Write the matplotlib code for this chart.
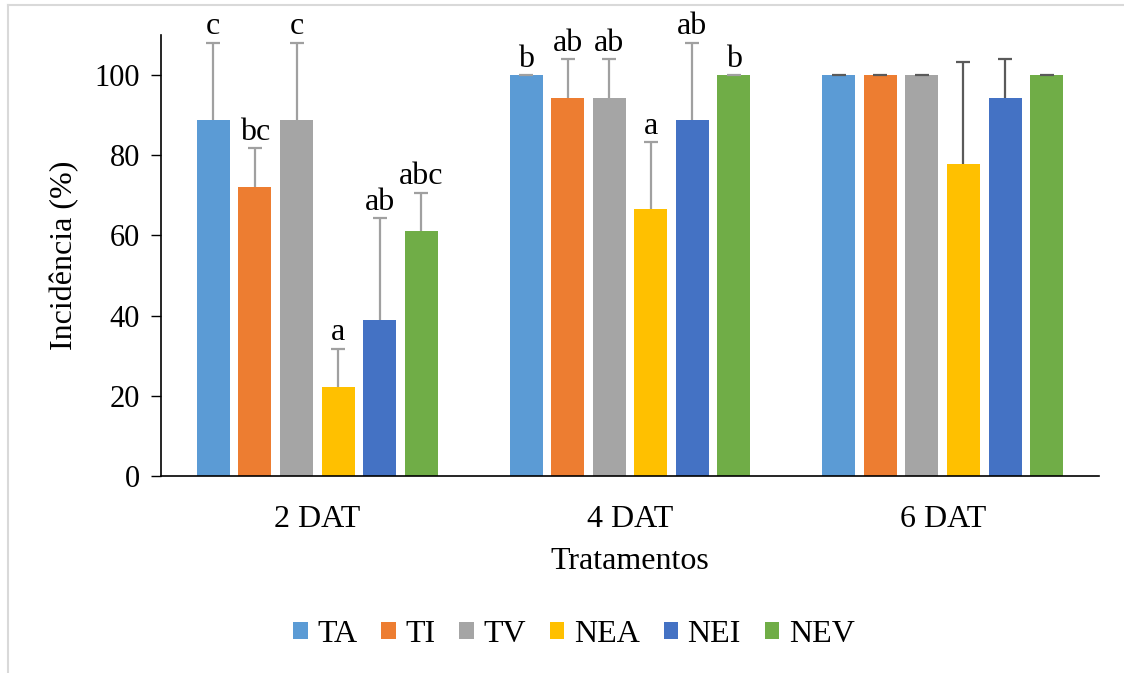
import matplotlib.pyplot as plt
import numpy as np

plt.rcParams['font.family'] = ['Liberation Serif', 'DejaVu Serif']

groups = ["2 DAT", "4 DAT", "6 DAT"]
series = ["TA", "TI", "TV", "NEA", "NEI", "NEV"]
colors = ["#5B9BD5", "#ED7D31", "#A5A5A5", "#FFC000", "#4472C4", "#70AD47"]

# incidence (%) per series, one value per group
values = {
    "TA":  [88.9, 100.0, 100.0],
    "TI":  [72.2, 94.4, 100.0],
    "TV":  [88.9, 94.4, 100.0],
    "NEA": [22.2, 66.7, 77.8],
    "NEI": [38.9, 88.9, 94.4],
    "NEV": [61.1, 100.0, 100.0],
}
errors = {
    "TA":  [19.2, 0.0, 0.0],
    "TI":  [9.6, 9.6, 0.0],
    "TV":  [19.2, 9.6, 0.0],
    "NEA": [9.6, 16.6, 25.5],
    "NEI": [25.5, 19.2, 9.6],
    "NEV": [9.6, 0.0, 0.0],
}
letters = {
    "TA":  ["c", "b", ""],
    "TI":  ["bc", "ab", ""],
    "TV":  ["c", "ab", ""],
    "NEA": ["a", "a", ""],
    "NEI": ["ab", "ab", ""],
    "NEV": ["abc", "b", ""],
}
err_colors = ["#a0a0a0", "#a0a0a0", "#5a5a5a"]

def main():
    W, H = 1124, 673
    fig = plt.figure(figsize=(W / 100, H / 100), dpi=100)
    ax = fig.add_axes([161 / W, 1 - 476 / H, (1099 - 161) / W, (476 - 35) / H])

    x = np.arange(len(groups))
    width = 0.1056
    pitch = 0.133
    fs = 23
    fs_tick = 22

    for i, s in enumerate(series):
        pos = x + (i - 2.5) * pitch
        ax.bar(pos, values[s], width, color=colors[i], label=s, zorder=2)
        for g in range(len(groups)):
            top = values[s][g] + errors[s][g]
            # only the upper half of the error bar, with a cap at its end
            ax.errorbar(pos[g], values[s][g], yerr=[[0], [errors[s][g]]],
                        fmt='none', ecolor=err_colors[g], elinewidth=1.6,
                        capsize=0, zorder=3)
            ax.plot(pos[g], top, marker='_', ms=10, mew=1.6,
                    color=err_colors[g], zorder=3)
            if letters[s][g]:
                ax.text(pos[g], top + 0.3, letters[s][g],
                        ha='center', va='bottom', fontsize=fs)

    ax.set_xlim(-0.5, 2.5)
    ax.set_ylim(0, 110)
    ax.set_yticks([0, 20, 40, 60, 80, 100])
    ax.set_xticks(x)
    ax.set_xticklabels(groups)
    ax.tick_params(axis='y', labelsize=fs_tick, length=7, width=1, pad=8)
    ax.tick_params(axis='x', labelsize=fs, length=0, pad=21)
    for side in ['top', 'right']:
        ax.spines[side].set_visible(False)
    ax.spines['left'].set_linewidth(1.2)
    ax.spines['bottom'].set_linewidth(1.2)

    ax.set_ylabel("Incidência (%)", fontsize=fs, labelpad=11)
    ax.set_xlabel("Tratamentos", fontsize=fs, labelpad=9)

    fig.legend(loc='center', bbox_to_anchor=(574 / W, 1 - 634 / H), ncol=6,
               frameon=False, fontsize=fs, handlelength=0.45, handleheight=0.45,
               handletextpad=0.3, columnspacing=0.75)

    # outer chart frame
    fig.add_artist(plt.Line2D([7.5 / W, 7.5 / W], [0, 1 - 4.5 / H],
                              transform=fig.transFigure, color='#d9d9d9', lw=1.5))
    fig.add_artist(plt.Line2D([7.5 / W, 1], [1 - 4.5 / H, 1 - 4.5 / H],
                              transform=fig.transFigure, color='#d9d9d9', lw=1.5))

    fig.savefig("out.png", dpi=100)

if __name__ == '__main__':
    main()
